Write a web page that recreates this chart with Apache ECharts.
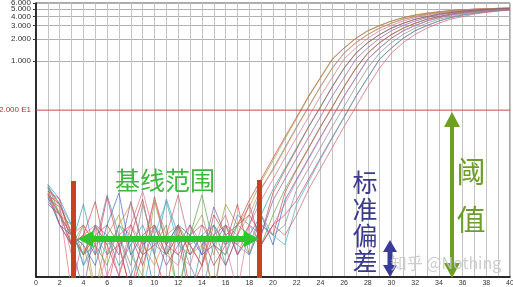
<!DOCTYPE html>
<html><head><meta charset="utf-8">
<script src="https://cdn.jsdelivr.net/npm/echarts@6/dist/echarts.min.js"></script>
<style>html,body{margin:0;padding:0;background:#fff}#c{width:513px;height:287px}</style>
</head><body><div id="c"></div>
<script>
// ---- data ----
const cycles = [1,2,3,4,5,6,7,8,9,10,11,12,13,14,15,16,17,18,19,20,21,22,23,24,25,26,27,28,29,30,31,32,33,34,35,36,37,38,39,40];
const xTickLabels = ['0','2','4','6','8','10','12','14','16','18','20','22','24','26','28','30','32','34','36','38','40'];
const yTickValues = [1,2,3,4,5,6];
const thresholdValue = 0.22;
const thresholdLabel = '2.000 E1';
const yMin = 0.00126, yMax = 6.05;

const c1 = [0.02,0.012,0.005,0.0025,0.006,0.0034,0.0013,0.0046,0.014,0.0025,0.0008,0.0063,0.0008,0.0018,0.0086,0.0046,0.0063,0.0135,0.026,0.05,0.095,0.178,0.339,0.603,1.07,1.51,2.04,2.57,3.02,3.47,3.85,4.17,4.42,4.62,4.79,4.90,5.01,5.07,5.13,5.19];
const c2 = [0.016,0.009,0.0034,0.0063,0.0008,0.0046,0.0086,0.0025,0.0013,0.013,0.0034,0.0008,0.0046,0.0086,0.0025,0.012,0.0063,0.011,0.024,0.046,0.09,0.17,0.33,0.59,1.05,1.49,2.02,2.55,3.0,3.45,3.84,4.16,4.41,4.61,4.78,4.9,5.0,5.07,5.13,5.18];
const c3 = [0.022,0.014,0.0063,0.0018,0.0034,0.016,0.0046,0.0013,0.0034,0.006,0.0025,0.0046,0.0018,0.0008,0.0034,0.0025,0.0086,0.0063,0.019,0.036,0.069,0.132,0.245,0.457,0.813,1.29,1.78,2.29,2.79,3.24,3.67,3.98,4.30,4.52,4.71,4.84,4.95,5.04,5.10,5.16];
const c4 = [0.018,0.0086,0.0046,0.0034,0.0008,0.0025,0.0063,0.012,0.0034,0.0018,0.0046,0.0063,0.0025,0.0034,0.0008,0.0063,0.0046,0.0086,0.02,0.034,0.066,0.128,0.24,0.45,0.80,1.28,1.77,2.28,2.78,3.23,3.66,3.97,4.29,4.51,4.70,4.84,4.95,5.04,5.10,5.16];
const c5 = [0.014,0.011,0.0008,0.0046,0.0063,0.0013,0.0034,0.0063,0.018,0.0046,0.0025,0.0018,0.0063,0.0034,0.0046,0.0086,0.0025,0.0063,0.0135,0.026,0.05,0.095,0.178,0.339,0.603,1.07,1.51,2.04,2.57,3.02,3.47,3.85,4.17,4.42,4.62,4.79,4.90,5.01,5.07,5.13];
const c6 = [0.02,0.0063,0.0034,0.012,0.0025,0.0046,0.0018,0.0034,0.0063,0.0025,0.014,0.0046,0.0006,0.0034,0.0063,0.0018,0.0046,0.0034,0.0086,0.019,0.036,0.069,0.132,0.245,0.457,0.813,1.29,1.78,2.29,2.79,3.24,3.67,3.98,4.30,4.52,4.71,4.84,4.95,5.04,5.10];
const c7 = [0.016,0.012,0.0046,0.0025,0.0046,0.0063,0.0034,0.0008,0.0025,0.015,0.0034,0.0063,0.0025,0.0046,0.0018,0.0034,0.0063,0.0086,0.0046,0.017,0.034,0.066,0.13,0.24,0.45,0.80,1.28,1.77,2.28,2.78,3.23,3.66,3.97,4.29,4.51,4.70,4.84,4.95,5.04,5.10];
const c8 = [0.012,0.0086,0.0034,0.0008,0.0063,0.0046,0.0025,0.013,0.0034,0.0046,0.0018,0.0034,0.0063,0.0025,0.011,0.0046,0.0034,0.0063,0.0046,0.0135,0.026,0.05,0.095,0.178,0.339,0.603,1.07,1.51,2.04,2.57,3.02,3.47,3.85,4.17,4.42,4.62,4.79,4.90,5.01,5.07];
const c9 = [0.022,0.0086,0.0063,0.0025,0.0034,0.0018,0.0063,0.0046,0.0025,0.0034,0.0063,0.0007,0.0046,0.016,0.0034,0.0025,0.0063,0.0046,0.0034,0.0086,0.019,0.036,0.069,0.132,0.245,0.457,0.813,1.29,1.78,2.29,2.79,3.24,3.67,3.98,4.30,4.52,4.71,4.84,4.95,5.04];
const c10 = [0.018,0.014,0.0034,0.0046,0.013,0.0025,0.0034,0.0008,0.0046,0.0063,0.0025,0.0046,0.0034,0.0018,0.0063,0.0034,0.012,0.0025,0.0063,0.0046,0.017,0.035,0.067,0.13,0.24,0.45,0.80,1.28,1.77,2.28,2.78,3.23,3.66,3.97,4.29,4.51,4.70,4.84,4.95,5.04];
const c11 = [0.015,0.0063,0.0046,0.0034,0.0018,0.0063,0.017,0.0025,0.0046,0.0008,0.0034,0.0063,0.0046,0.0025,0.0034,0.0063,0.0025,0.0046,0.0086,0.0034,0.0135,0.026,0.05,0.095,0.178,0.339,0.603,1.07,1.51,2.04,2.57,3.02,3.47,3.85,4.17,4.42,4.62,4.79,4.90,5.01];
const c12 = [0.02,0.011,0.0025,0.0063,0.0034,0.0046,0.0013,0.0063,0.0034,0.014,0.0046,0.0025,0.0018,0.0063,0.0046,0.0034,0.0008,0.0063,0.0034,0.0063,0.012,0.025,0.048,0.093,0.175,0.335,0.60,1.06,1.50,2.03,2.56,3.01,3.46,3.84,4.16,4.41,4.61,4.78,4.89,5.0];
const c13 = [0.013,0.0086,0.0046,0.0025,0.0063,0.0034,0.0046,0.0018,0.012,0.0034,0.0025,0.0063,0.0034,0.0046,0.0007,0.0063,0.0034,0.0025,0.0086,0.0046,0.0063,0.019,0.036,0.069,0.132,0.245,0.457,0.813,1.29,1.78,2.29,2.79,3.24,3.67,3.98,4.30,4.52,4.71,4.84,4.95];
const c14 = [0.017,0.0063,0.0034,0.0046,0.0025,0.015,0.0034,0.0046,0.0018,0.0063,0.0034,0.0025,0.0046,0.0063,0.0034,0.0018,0.0046,0.012,0.0034,0.0063,0.0086,0.0135,0.026,0.05,0.095,0.178,0.339,0.603,1.07,1.51,2.04,2.57,3.02,3.47,3.85,4.17,4.42,4.62,4.79,4.90];
const c15 = [0.021,0.012,0.0063,0.0018,0.0046,0.0025,0.0063,0.0034,0.0008,0.0046,0.013,0.0034,0.0025,0.0046,0.0063,0.0034,0.0046,0.0025,0.0063,0.0046,0.0034,0.012,0.024,0.048,0.092,0.175,0.335,0.60,1.06,1.50,2.03,2.56,3.01,3.46,3.84,4.16,4.41,4.61,4.78,4.89];
const c16 = [0.016,0.0086,0.0046,0.0063,0.0034,0.0008,0.0046,0.0063,0.0025,0.0034,0.0046,0.016,0.0034,0.0018,0.0046,0.0063,0.0025,0.0046,0.0034,0.0063,0.0046,0.0086,0.019,0.036,0.069,0.132,0.245,0.457,0.813,1.29,1.78,2.29,2.79,3.24,3.67,3.98,4.30,4.52,4.71,4.84];

const wells = [c1,c2,c3,c4,c5,c6,c7,c8,c9,c10,c11,c12,c13,c14,c15,c16];
const wellColors = ['#d04040','#a0a040','#6a8ab0','#e0904a','#d8708a','#3a9ab0','#c05040','#8a5aa0',
                    '#60a050','#d04848','#4070c0','#e07898','#8a8a8a','#c84868','#40b0c8','#d06070'];

// ---- chart ----
const L = Math.log10;
const chart = echarts.init(document.getElementById('c'), null, {renderer:'canvas'});
const series = wells.map((w, i) => ({
  type: 'line', data: w.map((v, k) => [cycles[k], L(v)]),
  showSymbol: false, symbol: 'none', clip: true, silent: true, z: 2,
  lineStyle: {width: 0.8, color: wellColors[i], opacity: 0.9}
}));
// threshold line
series.push({
  type: 'line', data: [[0, L(thresholdValue)], [40, L(thresholdValue)]],
  showSymbol: false, symbol: 'none', silent: true, z: 3,
  lineStyle: {width: 1, color: '#c84848'}
});

const font = 'Liberation Sans';
const labelValues = yTickValues.map(L).concat([L(thresholdValue)]);
chart.setOption({
  animation: false,
  backgroundColor: '#fff',
  grid: {left: 36, right: 3, top: 3, bottom: 10, show: true, borderColor: '#555', borderWidth: 1,
         containLabel: false, outerBoundsMode: 'none'},
  xAxis: {
    type: 'value', min: 0, max: 40, interval: 1,
    axisLine: {show: true, onZero: false, lineStyle: {color: '#000', width: 1.5}},
    axisTick: {show: false},
    axisLabel: {fontSize: 7, color: '#333', fontFamily: font, margin: 3,
      formatter: v => (v % 2 === 0 ? xTickLabels[v / 2] : '')},
    splitLine: {show: true, lineStyle: {color: '#c4c4c4', width: 1}}
  },
  yAxis: {
    type: 'value', min: L(yMin), max: L(yMax),
    axisLine: {show: true, onZero: false, lineStyle: {color: '#000', width: 1.5}},
    axisTick: {show: true, length: 3, lineStyle: {color: '#333'}, customValues: yTickValues.map(L)},
    axisLabel: {fontSize: 8, fontFamily: font, margin: 5, showMaxLabel: true, hideOverlap: false,
      customValues: labelValues,
      color: v => (Math.abs(v - L(thresholdValue)) < 1e-6 ? '#b03030' : '#333'),
      formatter: v => (Math.abs(v - L(thresholdValue)) < 1e-6 ? thresholdLabel : Math.pow(10, v).toFixed(3))},
    splitLine: {show: true, lineStyle: {color: '#b0b0b0', width: 1}}
  },
  series: series
});

// ---- annotations ----
function vArrow(x, y1, y2, hw, hl, sw, color) {
  return {type: 'polygon', silent: true, z: 100, shape: {points: [
    [x, y1], [x + hw, y1 + hl], [x + sw / 2, y1 + hl], [x + sw / 2, y2 - hl], [x + hw, y2 - hl],
    [x, y2], [x - hw, y2 - hl], [x - sw / 2, y2 - hl], [x - sw / 2, y1 + hl], [x - hw, y1 + hl]]},
    style: {fill: color}};
}
function hArrow(y, x1, x2, hw, hl, sw, color) {
  return {type: 'polygon', silent: true, z: 100, shape: {points: [
    [x1, y], [x1 + hl, y - hw], [x1 + hl, y - sw / 2], [x2 - hl, y - sw / 2], [x2 - hl, y - hw],
    [x2, y], [x2 - hl, y + hw], [x2 - hl, y + sw / 2], [x1 + hl, y + sw / 2], [x1 + hl, y + hw]]},
    style: {fill: color}};
}
function txt(s, x, y, size, color) {
  return {type: 'text', silent: true, z: 110, x: x, y: y,
    style: {text: s, fill: color, fontSize: size, fontFamily: 'Noto Sans CJK SC', align: 'center', verticalAlign: 'middle'}};
}
chart.setOption({graphic: [
  {type: 'rect', silent: true, z: 100, shape: {x: 71, y: 181, width: 5, height: 97}, style: {fill: '#c8421e'}},
  {type: 'rect', silent: true, z: 100, shape: {x: 257, y: 180, width: 5, height: 98}, style: {fill: '#c8421e'}},
  hArrow(239, 78, 259, 8, 15, 6, '#2ec62e'),
  txt('基线范围', 165, 180, 25, '#3cb83c'),
  txt('标', 365, 182, 25, '#3a3a8e'),
  txt('准', 365, 209, 25, '#3a3a8e'),
  txt('偏', 365, 235, 25, '#3a3a8e'),
  txt('差', 365, 261, 25, '#3a3a8e'),
  vArrow(390, 240, 277, 7, 12, 5, '#3a3a9a'),
  vArrow(452, 112, 278, 8, 15, 4, '#6e9e22'),
  txt('阈', 471, 172, 29, '#6e9e2a'),
  txt('值', 471, 220, 29, '#6e9e2a'),
  txt('知乎 @Nothing', 446, 263, 16, 'rgba(200,200,200,0.9)')
]});
</script></body></html>
